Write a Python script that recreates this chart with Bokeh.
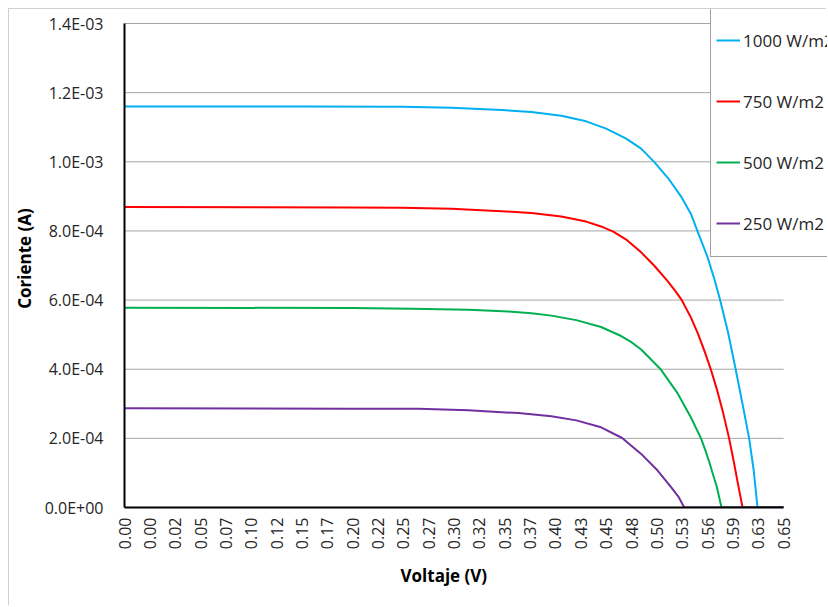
from bokeh.plotting import figure
from bokeh.models import Range1d, FixedTicker, Legend, LegendItem, Title
from bokeh.embed import file_html
from bokeh.resources import INLINE

# ---- data ----
# category axis: position index of each tick label
x_labels = ["0.00", "0.00", "0.02", "0.05", "0.07", "0.10", "0.12", "0.15", "0.17",
            "0.20", "0.22", "0.25", "0.27", "0.30", "0.32", "0.35", "0.37", "0.40",
            "0.43", "0.45", "0.48", "0.50", "0.53", "0.56", "0.59", "0.63", "0.65"]
y_ticks = [0.0, 0.0002, 0.0004, 0.0006, 0.0008, 0.0010, 0.0012, 0.0014]
y_labels = ["0.0E+00", "2.0E-04", "4.0E-04", "6.0E-04", "8.0E-04",
            "1.0E-03", "1.2E-03", "1.4E-03"]
series_names = ["1000 W/m2", "750 W/m2", "500 W/m2", "250 W/m2"]
series_colors = ["#00b0f0", "#ff0000", "#00b050", "#7030a0"]

pos_1000 = [0.0, 7.00, 10.94, 12.90, 14.87, 16.05, 17.23, 18.21, 19.00, 19.79, 20.38,
            20.90, 21.44, 21.95, 22.34, 22.61, 23.00, 23.25, 23.50, 23.80, 24.11,
            24.39, 24.64, 24.82, 24.97, 26.0]
cur_1000 = [1.160e-3, 1.160e-3, 1.159e-3, 1.156e-3, 1.150e-3, 1.144e-3, 1.133e-3,
            1.117e-3, 1.096e-3, 1.067e-3, 1.038e-3, 0.999e-3, 0.953e-3, 0.900e-3,
            0.850e-3, 0.798e-3, 0.724e-3, 0.665e-3, 0.599e-3, 0.509e-3, 0.399e-3,
            0.295e-3, 0.200e-3, 0.107e-3, 0.0, 0.0]

pos_750 = [0.0, 8.97, 10.94, 12.90, 14.87, 16.05, 17.23, 18.21, 18.80, 19.28, 19.79,
           20.38, 20.89, 21.40, 21.71, 21.99, 22.34, 22.62, 22.90, 23.13, 23.37,
           23.60, 23.85, 24.04, 24.21, 24.38, 26.0]
cur_750 = [0.869e-3, 0.868e-3, 0.867e-3, 0.864e-3, 0.857e-3, 0.852e-3, 0.842e-3,
           0.827e-3, 0.813e-3, 0.798e-3, 0.775e-3, 0.738e-3, 0.700e-3, 0.657e-3,
           0.628e-3, 0.599e-3, 0.550e-3, 0.503e-3, 0.448e-3, 0.399e-3, 0.341e-3,
           0.278e-3, 0.200e-3, 0.130e-3, 0.064e-3, 0.0, 0.0]

pos_500 = [0.0, 8.97, 11.33, 13.57, 15.15, 16.05, 16.84, 17.82, 18.80, 19.59, 19.98,
           20.38, 21.16, 21.82, 22.34, 22.74, 22.90, 23.06, 23.37, 23.55, 26.0]
cur_500 = [0.578e-3, 0.577e-3, 0.575e-3, 0.572e-3, 0.567e-3, 0.562e-3, 0.555e-3,
           0.542e-3, 0.522e-3, 0.496e-3, 0.479e-3, 0.457e-3, 0.399e-3, 0.330e-3,
           0.261e-3, 0.200e-3, 0.168e-3, 0.133e-3, 0.058e-3, 0.0, 0.0]

pos_250 = [0.0, 8.97, 11.60, 13.57, 15.54, 16.84, 17.82, 18.80, 19.63, 20.38, 21.03,
           21.56, 21.87, 22.08, 26.0]
cur_250 = [0.287e-3, 0.286e-3, 0.2855e-3, 0.281e-3, 0.273e-3, 0.264e-3, 0.252e-3,
           0.232e-3, 0.201e-3, 0.155e-3, 0.107e-3, 0.059e-3, 0.029e-3, 0.0, 0.0]

series_pos = [pos_1000, pos_750, pos_500, pos_250]
series_cur = [cur_1000, cur_750, cur_500, cur_250]

FONT = "Open Sans"

x_last = len(x_labels) - 1
y_top = y_ticks[-1]
# plotting frame reaches the right and top edges of the canvas so the
# legend (which sticks out of the plotting area in the reference) is not clipped
x_end = x_last + 44 / 25.423
y_end = y_top + 14 / 345714.0

p = figure(width=818, height=597, output_backend="svg", toolbar_location=None,
           x_range=Range1d(0, x_end), y_range=Range1d(0, y_end),
           min_border_left=113, min_border_right=0, min_border_top=0,
           min_border_bottom=99)
p.styles = {"margin-left": "8px", "margin-top": "8px",
            "border-left": "1px solid #d0d0d0", "border-top": "1px solid #d0d0d0"}
p.outline_line_color = None
p.background_fill_color = "white"
p.border_fill_color = "white"

# horizontal gridlines limited to the category span
p.xgrid.grid_line_color = None
p.ygrid.grid_line_color = None
p.segment(x0=[0] * len(y_ticks), x1=[x_last] * len(y_ticks), y0=y_ticks, y1=y_ticks,
          line_color="#a6a6a6", line_width=1, level="underlay")

renderers = []
for xs, ys, c in zip(series_pos, series_cur, series_colors):
    r = p.line(xs, ys, line_color=c, line_width=2, line_join="round")
    renderers.append(r)

# x axis
xa = p.xaxis[0]
xa.bounds = (0, x_last)
xa.ticker = FixedTicker(ticks=list(range(len(x_labels))))
xa.major_label_overrides = {i: lab for i, lab in enumerate(x_labels)}
xa.major_label_orientation = 1.5707963
xa.major_tick_line_color = None
xa.minor_tick_line_color = None
xa.major_tick_out = 0
xa.major_label_standoff = 10
xa.axis_line_color = "black"
xa.axis_line_width = 2
xa.major_label_text_font = FONT
xa.major_label_text_font_size = "16px"
xa.major_label_text_color = "#262626"

# x axis title (placed under the category span, not the wider frame)
xtitle = Title(text="Voltaje (V)", align="left", offset=276, standoff=18,
               text_font=FONT, text_font_style="bold", text_font_size="17px",
               text_color="black")
p.add_layout(xtitle, "below")

# y axis
ya = p.yaxis[0]
ya.bounds = (0, y_top)
ya.ticker = FixedTicker(ticks=y_ticks)
ya.major_label_overrides = {t: lab for t, lab in zip(y_ticks, y_labels)}
ya.major_tick_line_color = None
ya.minor_tick_line_color = None
ya.major_tick_out = 0
ya.major_label_standoff = 21
ya.axis_line_color = "black"
ya.axis_line_width = 2
ya.major_label_text_font = FONT
ya.major_label_text_font_size = "16px"
ya.major_label_text_color = "#262626"
ya.axis_label = "Coriente (A)"
ya.axis_label_text_font = FONT
ya.axis_label_text_font_style = "bold"
ya.axis_label_text_font_size = "17px"
ya.axis_label_text_color = "black"
ya.axis_label_standoff = 6

legend = Legend(items=[LegendItem(label=n, renderers=[r]) for n, r in zip(series_names, renderers)],
                location=(586, 250))
legend.padding = 5
legend.margin = 0
legend.spacing = 5
legend.glyph_width = 24
legend.glyph_height = 56
legend.label_height = 56
legend.label_standoff = 3
legend.label_text_font = FONT
legend.label_text_font_size = "17px"
legend.label_text_color = "#262626"
legend.border_line_color = "#404040"
legend.border_line_width = 1
legend.background_fill_color = "white"
legend.background_fill_alpha = 1.0
p.add_layout(legend, "center")

open("out.html", "w").write(file_html(p, INLINE))
